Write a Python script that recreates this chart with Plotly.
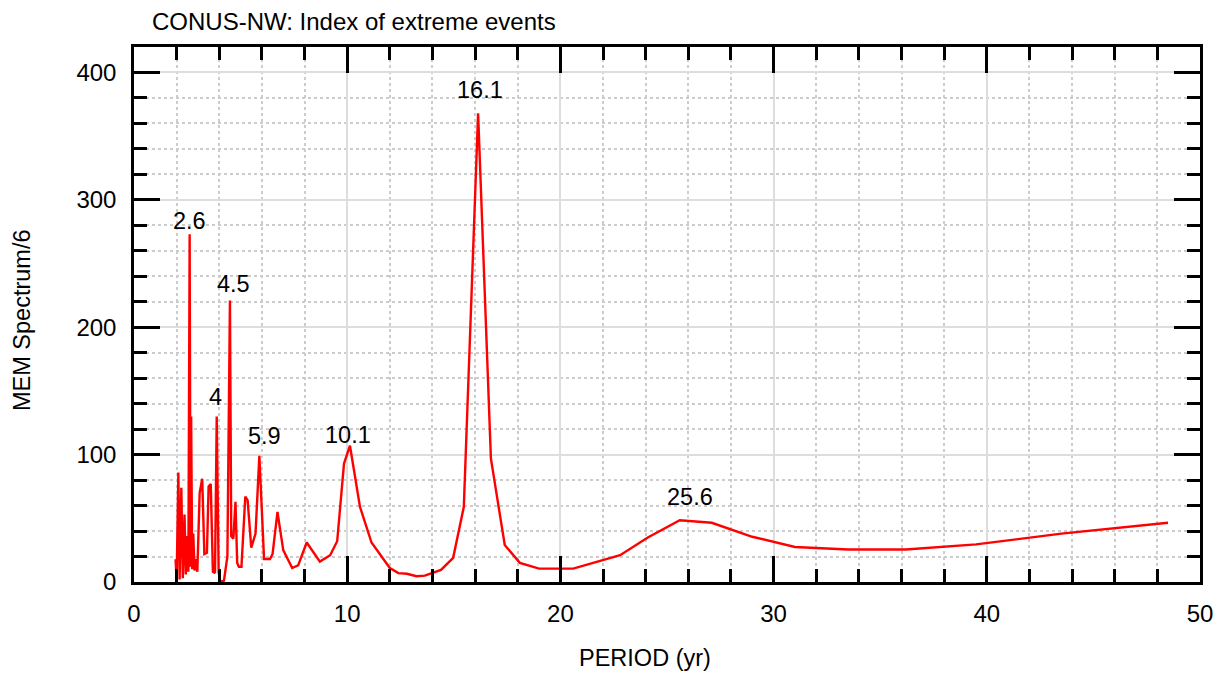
import plotly.graph_objects as go

# MEM spectrum (period in years, spectrum/6)
period = [1.95, 2.0, 2.08, 2.14, 2.22, 2.29, 2.37, 2.43, 2.49, 2.55, 2.61, 2.65, 2.68, 2.73, 2.78,
          2.84, 2.9, 2.97, 3.08, 3.2, 3.3, 3.42, 3.5, 3.6, 3.7, 3.8, 3.88, 3.97, 4.05, 4.22,
          4.38, 4.5, 4.56, 4.66, 4.76, 4.84, 4.92, 5.04, 5.22, 5.33, 5.5, 5.7, 5.88, 6.0, 6.1,
          6.38, 6.5, 6.73, 7.0, 7.42, 7.7, 8.1, 8.72, 9.2, 9.53, 9.85, 10.13, 10.6, 11.14, 12.0,
          12.4, 12.8, 13.25, 13.64, 14.4, 14.97, 15.47, 16.14, 16.74, 17.39, 18.1, 19.0, 20.6,
          22.8, 24.1, 25.6, 27.1, 29.0, 31.0, 33.5, 36.2, 39.5, 43.5, 48.5]
spectrum = [18, 1, 86, 2, 74, 3, 53, 6, 36, 8, 273, 12, 130, 10, 38,
            9, 18, 8, 70, 81, 22, 23, 75, 77, 8, 7, 130, 8, 0, 1,
            20, 221, 36, 34, 63, 15, 12, 12, 67, 64, 27, 38, 99, 57, 18,
            18, 22, 55, 25, 11, 13, 31, 16, 21, 32, 93, 107, 59, 31, 11,
            7, 6.5, 4.5, 5, 9.5, 19, 59, 368, 97, 29, 15, 10.5, 10.5,
            21, 35, 48.5, 46.5, 35.5, 27.5, 25.5, 25.5, 29.5, 38, 46.5]

# Peak labels
label_text = ["2.6", "4", "4.5", "5.9", "10.1", "16.1", "25.6"]
label_x = [2.58, 3.8, 4.69, 6.14, 10.03, 16.22, 26.07]
label_y = [283.5, 145, 234, 115, 115.7, 386.6, 67]

title_text = "CONUS-NW: Index of extreme events"
xtitle = "PERIOD (yr)"
ytitle = "MEM Spectrum/6"

FONT = "Liberation Sans, Arial, sans-serif"
OFF = 8  # default page body margin
W, H = 1232 - OFF, 675 - OFF

fig = go.Figure()
fig.add_trace(go.Scatter(x=period, y=spectrum, mode="lines",
                         line=dict(color="#ff0000", width=2.4), showlegend=False))

for t, x, y in zip(label_text, label_x, label_y):
    fig.add_annotation(x=x, y=y, text=t, showarrow=False, xref="x", yref="y",
                       font=dict(family=FONT, size=23.5, color="black"),
                       xanchor="center", yanchor="middle")

fig.add_annotation(text=xtitle, x=(645 - 134) / 1066, y=(582 - 658) / 535, xref="paper", yref="paper",
                   showarrow=False, font=dict(family=FONT, size=23.5, color="black"),
                   xanchor="center", yanchor="middle")
fig.add_annotation(text=ytitle, x=(22 - 134) / 1066, y=(582 - 320) / 535, xref="paper", yref="paper",
                   showarrow=False, textangle=-90, font=dict(family=FONT, size=23.5, color="black"),
                   xanchor="center", yanchor="middle")
fig.add_annotation(text=title_text, x=(150 - OFF) / W, y=1 - (21 - OFF) / H,
                   xref="paper", yref="paper", showarrow=False,
                   font=dict(family=FONT, size=24, color="black"),
                   xanchor="left", yanchor="middle")

axis_common = dict(
    showline=True, linecolor="black", linewidth=2.5, mirror="ticks",
    ticks="inside", ticklen=26, tickwidth=2.5, tickcolor="black",
    showgrid=True, gridcolor="#dddddd", gridwidth=2,
    zeroline=False,
    tickfont=dict(family=FONT, size=24, color="black"),
)

fig.update_xaxes(range=[0, 50], dtick=10, tick0=0,
                 minor=dict(dtick=2, ticks="inside", ticklen=13, tickwidth=2.5, tickcolor="black",
                            showgrid=True, gridcolor="#cccccc", griddash="dot", gridwidth=2),
                 ticklabelstandoff=8, **axis_common)
fig.update_yaxes(range=[0, 420], dtick=100, tick0=0,
                 minor=dict(dtick=20, ticks="inside", ticklen=13, tickwidth=2.5, tickcolor="black",
                            showgrid=True, gridcolor="#cccccc", griddash="dot", gridwidth=2),
                 ticklabelstandoff=10, **axis_common)

# convert the title annotation to container-relative placement
fig.layout.annotations[-1].update(xref="paper", yref="paper",
                                  x=((150 - OFF) - (134 - OFF)) / 1066,
                                  y=(582 - 21) / 535)

fig.update_layout(
    width=W, height=H,
    margin=dict(l=134 - OFF, r=32, t=47 - OFF, b=93),
    plot_bgcolor="white", paper_bgcolor="white",
)

fig.write_html("out.html")
